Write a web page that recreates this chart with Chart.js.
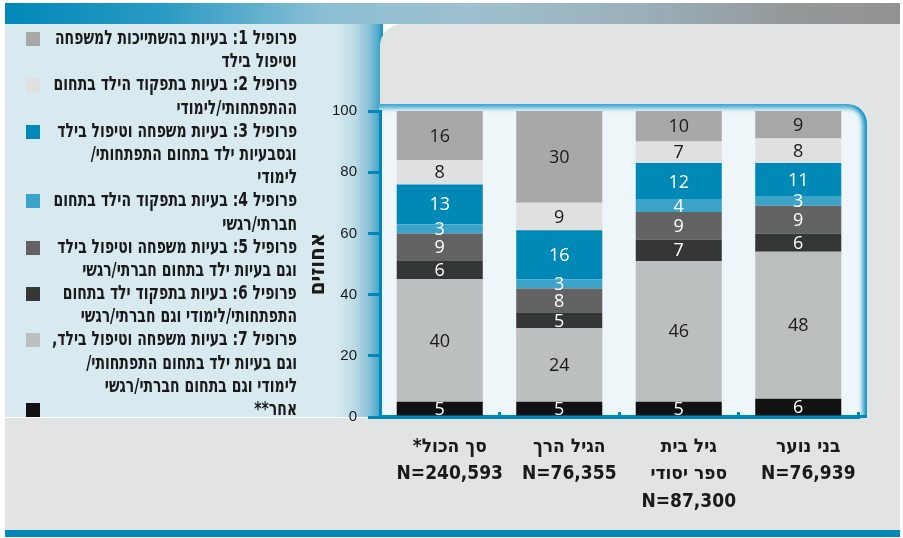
<!DOCTYPE html>
<html lang="he">
<head>
<meta charset="utf-8">
<title>פרופילים לפי קבוצת גיל</title>
<script src="https://cdn.jsdelivr.net/npm/chart.js"></script>
<style>
  body { margin: 0; background: #fff; }
  #frame { position: relative; width: 903px; height: 538px; overflow: hidden; }
  .bg { position: absolute; }
  #banner { left: 5px; top: 3px; width: 895px; height: 21px;
    background: linear-gradient(to right, #0088b8 0%, #2b9bc4 18%, #8cc0d4 36%, #9fc0cf 52%, #9aaeb8 72%, #949899 88%, #939393 100%); }
  #side { left: 5px; top: 24px; width: 378px; height: 393px; background: #d8eaf0; }
  #strip { left: 335px; top: 24px; width: 48px; height: 393px;
    background: linear-gradient(to right, #d8eaf0 0%, #bcdbe6 40%, #8cc3d8 70%, #4fa9cc 90%, #0a90bd 100%); }
  #upper { left: 380px; top: 24px; width: 520px; height: 400px; background: #e2e4e3; border-top-left-radius: 22px; }
  #plot { left: 379px; top: 104px; width: 488px; height: 311px; background: #eef6f9;
    border-bottom: 3px solid #0088b8; border-top-right-radius: 20px;
    box-shadow: inset 0 7px 5px -3px rgba(20, 150, 200, 0.85), inset -8px 0 5px -4px rgba(0, 137, 190, 0.95); }
  #lower { left: 5px; top: 418px; width: 895px; height: 112px; background: #e2e4e3; }
  #footer { left: 5px; top: 530px; width: 895px; height: 7px; background: #0088b8; }
  #chartBox { position: absolute; left: 0; top: 0; width: 903px; height: 538px; }
  #legend { position: absolute; left: 5px; top: 26px; width: 292px; direction: rtl; text-align: right;
    font: bold 20px "DejaVu Sans Condensed", "DejaVu Sans", sans-serif; line-height: 23.2px; color: #1a1a1a; }
  #legend .item { position: relative; }
  #legend .row { height: 23.2px; white-space: nowrap; }
  #legend .row span { display: inline-block; transform-origin: right center; }
  #legend .swatch { position: absolute; left: 21px; top: 6px; width: 14px; height: 14px; }
</style>
</head>
<body>
<div id="frame">
  <div class="bg" id="banner"></div>
  <div class="bg" id="side"></div>
  <div class="bg" id="strip"></div>
  <div class="bg" id="upper"></div>
  <div class="bg" id="plot"></div>
  <div class="bg" id="lower"></div>
  <div class="bg" id="footer"></div>
  <div id="chartBox"><canvas id="profiles" dir="rtl"></canvas></div>
  <div id="legend"></div>
</div>
<script>
var categories = [
  ["סך הכול*", "N=240,593"],
  ["הגיל הרך", "N=76,355"],
  ["גיל בית", "ספר יסודי", "N=87,300"],
  ["בני נוער", "N=76,939"]
];

// percent of children in each profile, per category
var profile1 = [16, 30, 10, 9];
var profile2 = [8, 9, 7, 8];
var profile3 = [13, 16, 12, 11];
var profile4 = [3, 3, 4, 3];
var profile5 = [9, 8, 9, 9];
var profile6 = [6, 5, 7, 6];
var profile7 = [40, 24, 46, 48];
var other = [5, 5, 5, 6];

var yTicks = [0, 20, 40, 60, 80, 100];
var yTitle = "אחוזים";

var seriesNames = [
  ["פרופיל 1: בעיות בהשתייכות למשפחה", "וטיפול בילד"],
  ["פרופיל 2: בעיות בתפקוד הילד בתחום", "ההתפתחותי/לימודי"],
  ["פרופיל 3: בעיות משפחה וטיפול בילד", "וגסבעיות ילד בתחום התפתחותי/", "לימודי"],
  ["פרופיל 4: בעיות בתפקוד הילד בתחום", "חברתי/רגשי"],
  ["פרופיל 5: בעיות משפחה וטיפול בילד", "וגם בעיות ילד בתחום חברתי/רגשי"],
  ["פרופיל 6: בעיות בתפקוד ילד בתחום", "התפתחותי/לימודי וגם חברתי/רגשי"],
  ["פרופיל 7: בעיות משפחה וטיפול בילד,", "וגם בעיות ילד בתחום התפתחותי/", "לימודי וגם בתחום חברתי/רגשי"],
  ["אחר**"]
];

var seriesValues = [profile1, profile2, profile3, profile4, profile5, profile6, profile7, other];
var seriesColors = ["#a7a8a7", "#dfe0df", "#0088b7", "#3ba3c8", "#626362", "#353736", "#bcbfc0", "#111111"];
var labelColors = ["#1a1a1a", "#1a1a1a", "#ffffff", "#ffffff", "#ffffff", "#ffffff", "#1a1a1a", "#ffffff"];

// stack from the bottom up: "other" first, profile 1 on top
var datasets = [];
for (var i = seriesValues.length - 1; i >= 0; i--) {
  datasets.push({
    label: seriesNames[i].join(" "),
    data: seriesValues[i],
    backgroundColor: seriesColors[i],
    labelColor: labelColors[i],
    borderWidth: 0,
    barPercentage: 0.72,
    categoryPercentage: 1
  });
}

var valueLabels = {
  id: "valueLabels",
  afterDatasetsDraw: function (chart) {
    var ctx = chart.ctx;
    ctx.save();
    ctx.font = "18px 'Open Sans'";
    ctx.textAlign = "center";
    ctx.textBaseline = "middle";
    chart.data.datasets.forEach(function (ds, i) {
      chart.getDatasetMeta(i).data.forEach(function (bar, j) {
        ctx.fillStyle = ds.labelColor;
        ctx.fillText(ds.data[j], bar.x, (bar.y + bar.base) / 2 + 1);
      });
    });
    ctx.restore();
  }
};

var blue = "#0088b7";
var condensed = "'DejaVu Sans Condensed', 'DejaVu Sans', sans-serif";
var context = document.getElementById("profiles").getContext("2d");
var bar = new Chart(context, {
  type: "bar",
  data: { labels: categories, datasets: datasets },
  plugins: [valueLabels],
  options: {
    responsive: true,
    maintainAspectRatio: false,
    animation: false,
    layout: { padding: { left: 0, right: 45, top: 111, bottom: 0 } },
    plugins: { legend: { display: false }, tooltip: { enabled: false } },
    scales: {
      x: {
        stacked: true,
        border: { display: true, color: blue, width: 3 },
        grid: { display: true, drawOnChartArea: false, drawTicks: true, tickLength: -5, color: blue, lineWidth: 3 },
        ticks: {
          color: "#1a1a1a",
          padding: 21,
          labelOffset: 10,
          maxRotation: 0,
          autoSkip: false,
          font: { family: condensed, size: 19, weight: "bold", lineHeight: 1.45 }
        },
        afterFit: function (scale) { scale.height = 121; }
      },
      y: {
        stacked: true,
        min: 0,
        max: 100,
        border: { display: true, color: blue, width: 3 },
        grid: { drawOnChartArea: false, drawTicks: true, tickLength: 12, color: blue, lineWidth: 3 },
        ticks: {
          color: "#1a1a1a",
          padding: 11,
          font: { family: "'Liberation Sans', Arial, sans-serif", size: 15 }
        },
        afterBuildTicks: function (scale) {
          scale.ticks = yTicks.map(function (v) { return { value: v }; });
        },
        title: {
          display: true,
          text: yTitle,
          color: "#1a1a1a",
          padding: { top: 305, bottom: 0 },
          font: { family: condensed, size: 22, weight: "bold", lineHeight: 1.2 }
        },
        afterFit: function (scale) { scale.width = 380; }
      }
    }
  }
});

// legend: one row per printed line, squeezed to the width of the original
var legendBox = document.getElementById("legend");
var firstRow = null;
var allSpans = [];
seriesNames.forEach(function (name, i) {
  var item = document.createElement("div");
  item.className = "item";
  var swatch = document.createElement("span");
  swatch.className = "swatch";
  swatch.style.background = seriesColors[i];
  item.appendChild(swatch);
  name.forEach(function (line) {
    var row = document.createElement("div");
    row.className = "row";
    var text = document.createElement("span");
    text.textContent = line;
    row.appendChild(text);
    item.appendChild(row);
    allSpans.push(text);
    if (!firstRow) firstRow = text;
  });
  legendBox.appendChild(item);
});
var squeeze = 242 / firstRow.offsetWidth;
allSpans.forEach(function (s) { s.style.transform = "scaleX(" + squeeze + ")"; });
</script>
</body>
</html>
